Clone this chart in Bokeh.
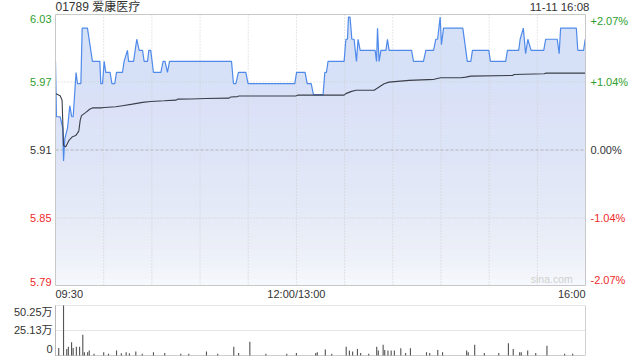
from bokeh.plotting import figure
from bokeh.models import Range1d, Label
from bokeh.embed import file_html
from bokeh.resources import INLINE

# ---------------- data ----------------
TITLE = "01789 爱康医疗"
STAMP = "11-11 16:08"
PREV_CLOSE = 5.91
PCT_LIMIT = 2.07          # +/- percent shown on the scale
SESSION_MINUTES = 330     # 09:30-12:00 + 13:00-16:00

# minutes since 09:30 (trading time) and last price
price_t = [0.0, 0.6, 2.9, 4.5, 5.0, 5.8, 7.5, 8.9, 10.1, 11.0, 12.8, 13.7, 15.8, 16.6, 19.9,
           23.0, 27.6, 28.2, 29.3, 30.3, 31.3, 34.0, 35.1, 36.9, 38.0, 41.7, 42.7, 44.8, 45.5,
           48.6, 50.6, 52.1, 54.2, 55.2, 57.3, 58.1, 59.3, 61.0, 65.6, 67.0, 68.2, 69.7, 71.0,
           109.6, 110.8, 112.3, 113.9, 118.5, 119.9, 149.0, 150.1, 155.4, 156.7, 159.2, 160.6,
           166.6, 167.7, 168.7, 169.7, 179.7, 180.8, 181.8, 182.4, 183.4, 184.5, 185.9, 187.4,
           188.4, 189.7, 199.0, 199.9, 200.5, 201.5, 202.6, 205.7, 206.7, 207.7, 221.7, 222.9,
           229.1, 230.6, 235.4, 236.8, 237.9, 239.5, 240.3, 241.6, 253.6, 255.5, 256.4, 258.6,
           259.6, 269.8, 270.8, 280.3, 281.4, 288.4, 289.3, 291.3, 292.7, 294.1, 296.1, 304.0,
           305.2, 312.4, 313.6, 314.5, 324.3, 325.2, 328.8, 329.8]
price_v = [5.99, 5.94, 5.94, 5.93, 5.90, 5.92, 5.93, 5.95, 5.94, 5.94, 5.98, 5.97, 5.97, 6.02, 6.02,
           5.99, 5.99, 5.97, 5.97, 5.99, 5.98, 5.98, 5.97, 5.97, 5.98, 5.98, 5.99, 6.00, 5.99,
           5.99, 6.01, 6.00, 6.00, 5.99, 5.99, 6.00, 6.00, 5.98, 5.98, 5.99, 5.99, 5.98, 5.99,
           5.99, 5.97, 5.97, 5.98, 5.98, 5.97, 5.97, 5.98, 5.98, 5.97, 5.97, 5.96,
           5.96, 5.98, 5.98, 5.99, 5.99, 6.01, 6.01, 6.03, 6.03, 6.01, 6.01, 5.99,
           6.01, 6.00, 6.00, 5.99, 6.02, 5.99, 6.00, 6.00, 6.01, 6.00, 6.00, 5.99,
           5.99, 6.00, 6.00, 6.01, 6.01, 6.03, 6.005, 6.02, 6.02, 6.00, 5.99, 5.99,
           6.00, 6.00, 5.99, 5.99, 6.00, 6.00, 6.01, 6.02, 5.997, 6.01, 6.00, 6.00,
           6.01, 6.01, 5.997, 6.02, 6.02, 6.00, 6.00, 6.01]

# average price line
avg_t = [0.0, 2.9, 4.1, 5.0, 6.4, 8.5, 10.6, 12.6, 14.5, 15.4, 16.2, 18.9, 21.5, 23.0, 28.2,
         30.3, 37.5, 41.7, 47.9, 54.2, 59.3, 67.6, 74.9, 76.0, 84.3, 93.6, 108.1, 109.2, 113.3,
         114.3, 149.6, 150.7, 179.7, 180.8, 183.9, 187.0, 198.4, 201.5, 204.6, 207.7, 220.2,
         235.7, 239.9, 252.4, 255.5, 258.6, 284.6, 285.6, 304.3, 305.4, 329.8]
avg_v = [5.961, 5.959, 5.955, 5.914, 5.913, 5.919, 5.922, 5.923, 5.927, 5.937, 5.941, 5.944,
         5.947, 5.948, 5.948, 5.9484, 5.949, 5.950, 5.9514, 5.953, 5.9538, 5.9544, 5.955,
         5.9559, 5.956, 5.9565, 5.9568, 5.9579, 5.9582, 5.9588, 5.9588, 5.9595, 5.9595,
         5.9609, 5.9627, 5.9639, 5.9639, 5.9669, 5.9698, 5.9713, 5.9729, 5.9738, 5.9752,
         5.9752, 5.9758, 5.9767, 5.9773, 5.9782, 5.9788, 5.9794, 5.9794]

# volume (万 shares) per minute
vol_t = [2, 5, 7, 8, 10, 11, 13, 15, 17, 18, 20, 21, 24, 30, 33, 38, 41, 44, 46, 50,
         54, 61, 68, 78, 83, 94, 101, 111, 114, 121, 131, 144, 150, 162, 163, 168, 172, 181,
         183, 185, 188, 190, 195, 200, 201, 204, 205, 207, 209, 211, 215, 218, 221, 231,
         233, 238, 241, 256, 257, 261, 267, 276, 282, 285, 289, 290, 294, 299, 306, 317, 322]
vol_v = [7.6, 50.25, 6.6, 8.9, 13.2, 7.6, 8.9, 8.9, 20.8, 3.3, 3.3, 5.0, 1.7, 3.3, 1.7, 5.0,
         2.3, 3.3, 2.3, 4.0, 1.7, 3.3, 2.6, 1.7, 1.7, 4.0, 1.7, 8.9, 2.6, 13.9, 1.7, 1.7,
         2.6, 2.6, 3.3, 6.0, 1.7, 8.9, 5.0, 4.0, 6.6, 2.6, 1.7, 8.9, 5.0, 10.9, 5.6, 5.0,
         5.0, 5.0, 7.3, 2.6, 7.3, 3.3, 2.6, 5.6, 3.3, 5.0, 3.3, 10.9, 2.6, 2.6, 12.2, 6.6,
         3.3, 3.3, 5.0, 2.6, 9.9, 1.7, 1.7]
VOL_MAX = 50.25

pct_steps = [2.07, 1.04, 0.0, -1.04, -2.07]
price_labels = ["6.03", "5.97", "5.91", "5.85", "5.79"]
pct_labels = ["+2.07%", "+1.04%", "0.00%", "-1.04%", "-2.07%"]
time_ticks = [0, 150, 330]
time_labels = ["09:30", "12:00/13:00", "16:00"]
grid_minutes = [30, 60, 90, 120, 150, 180, 210, 240, 270, 300]
vol_ticks = [50.25, 25.13, 0]
vol_labels = ["50.25万", "25.13万", "0"]

# ---------------- layout geometry (pixels) ----------------
W, H = 640, 360
FX0, FX1 = 55, 585        # plot frames, left/right
PY0, PY1 = 14, 285        # price frame top/bottom
VY0, VY1 = 305, 355       # volume frame top/bottom

FONT = "Liberation Sans, Arial, Noto Sans CJK SC"
GREEN = "#2e9e2e"
RED = "#ee2b2b"
DARK = "#333333"
GRID = "#cdcdcd"
BLUE = "#4f8aea"

ylo = PREV_CLOSE * (1 - PCT_LIMIT / 100)
yhi = PREV_CLOSE * (1 + PCT_LIMIT / 100)
tick_pos = [PREV_CLOSE * (1 + s / 100) for s in pct_steps]

kx = SESSION_MINUTES / (FX1 - FX0)
dy = (yhi - ylo) / (PY1 - PY0)
dv = VOL_MAX / (VY1 - VY0)

p = figure(width=W, height=H,
           x_range=Range1d(-FX0 * kx, SESSION_MINUTES + (W - FX1) * kx),
           y_range=Range1d(ylo - (H - PY1) * dy, yhi + PY0 * dy),
           x_axis_location=None, y_axis_location=None, toolbar_location=None,
           output_backend="svg", min_border=0)
p.extra_y_ranges = {"vol": Range1d(-(H - VY1) * dv, VOL_MAX + VY0 * dv)}
p.grid.visible = False
p.outline_line_color = None
p.background_fill_color = "white"
p.border_fill_color = "white"

# ---- price panel ----
p.varea(x=price_t, y1=ylo, y2=price_v, fill_color="#d3e1f7")
# white fade towards the bottom: nested quads sharing the bottom edge (no seams)
N = 45
h = (yhi - ylo) / N
target_white = [0.97 * (1 - (j + 0.5) / N) for j in range(N)]   # band j from bottom
remain = [1 - w for w in target_white] + [1.0]
alphas = [1 - remain[j] / remain[j + 1] for j in range(N)]
p.quad(left=0, right=SESSION_MINUTES, bottom=ylo, top=[ylo + (j + 1) * h for j in range(N)],
       fill_color="white", fill_alpha=alphas, line_color=None)

p.segment(x0=grid_minutes, y0=ylo, x1=grid_minutes, y1=yhi, line_color=GRID, line_dash="1 2")
p.segment(x0=0, y0=[tick_pos[1], tick_pos[3]], x1=SESSION_MINUTES, y1=[tick_pos[1], tick_pos[3]],
          line_color=GRID, line_dash="1 2")
p.segment(x0=0, y0=PREV_CLOSE, x1=SESSION_MINUTES, y1=PREV_CLOSE, line_color="#b4b4b4",
          line_dash="3 2")

p.line(price_t, price_v, line_color=BLUE, line_width=1.2)
p.line(avg_t, avg_v, line_color="#3a3f4a", line_width=1.1)

p.quad(left=0, right=SESSION_MINUTES, bottom=ylo, top=yhi, fill_color=None,
       line_color="#c8c8c8", line_width=1)

colors = [GREEN if s > 0 else (RED if s < 0 else DARK) for s in pct_steps]
bases = ["top"] + ["middle"] * (len(pct_steps) - 2) + ["bottom"]
for ypos, lt, rt, c, b in zip(tick_pos, price_labels, pct_labels, colors, bases):
    p.add_layout(Label(x=0, y=ypos, x_offset=-4, text=lt, text_align="right", text_baseline=b,
                       text_color=c, text_font=FONT, text_font_size="11px"))
    p.add_layout(Label(x=SESSION_MINUTES, y=ypos, x_offset=5, text=rt, text_align="left",
                       text_baseline=b, text_color=c, text_font=FONT, text_font_size="11px"))

aligns = ["left", "center", "right"]
for tx, tl, al in zip(time_ticks, time_labels, aligns):
    p.add_layout(Label(x=tx, y=ylo, y_offset=-2, text=tl, text_align=al, text_baseline="top",
                       text_color=DARK, text_font=FONT, text_font_size="11px"))

p.add_layout(Label(x=0, y=yhi, y_offset=1, text=TITLE, text_align="left", text_baseline="bottom",
                   text_color=DARK, text_font=FONT, text_font_size="12px"))
p.add_layout(Label(x=SESSION_MINUTES, y=yhi, x_offset=4, y_offset=2, text=STAMP, text_align="right",
                   text_baseline="bottom", text_color=DARK, text_font=FONT, text_font_size="11.5px"))
p.add_layout(Label(x=309, y=ylo, y_offset=1, text="sina.com", text_align="center",
                   text_baseline="bottom", text_color="#d0d0d0", text_font=FONT,
                   text_font_size="10.5px"))

# ---- volume panel ----
p.segment(x0=0, y0=[VOL_MAX, vol_ticks[1]], x1=SESSION_MINUTES, y1=[VOL_MAX, vol_ticks[1]],
          line_color=GRID, line_dash="1 1", y_range_name="vol")
p.segment(x0=[0], y0=0, x1=[0], y1=VOL_MAX, line_color="#b8b8b8", y_range_name="vol")
p.segment(x0=[SESSION_MINUTES], y0=0, x1=[SESSION_MINUTES], y1=VOL_MAX, line_color="#d0d0d0",
          y_range_name="vol")
p.segment(x0=0, y0=[0], x1=SESSION_MINUTES, y1=[0], line_color="#9a9a9a", line_dash="1 1",
          y_range_name="vol")
p.vbar(x=vol_t, top=vol_v, bottom=0, width=0.7, fill_color="#555555", line_color=None,
       y_range_name="vol")

vb = ["top", "middle", "bottom"]
voff = [0, 0, 3]
for ypos, lt, b, off in zip(vol_ticks, vol_labels, vb, voff):
    p.add_layout(Label(x=0, y=ypos, x_offset=-3, y_offset=off, text=lt, text_align="right",
                       text_baseline=b, text_color=DARK, text_font=FONT, text_font_size="11px",
                       y_range_name="vol"))

open("out.html", "w").write(file_html(p, INLINE))
